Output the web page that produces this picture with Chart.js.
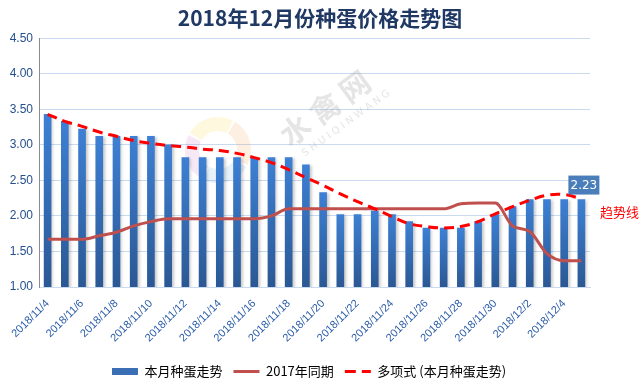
<!DOCTYPE html>
<html lang="zh-CN">
<head>
  <meta charset="UTF-8" />
  <title>2018年12月份种蛋价格走势图</title>
  <script src="https://cdn.jsdelivr.net/npm/chart.js"></script>
  <style>
    html, body { margin: 0; padding: 0; background: #fff; }
    #wrap { width: 640px; height: 388px; }
  </style>
</head>
<body>
  <div id="wrap"><canvas id="priceChart" width="640" height="388"></canvas></div>

  <script>
    const dates = [
      '2018/11/4', '2018/11/5', '2018/11/6', '2018/11/7', '2018/11/8', '2018/11/9',
      '2018/11/10', '2018/11/11', '2018/11/12', '2018/11/13', '2018/11/14', '2018/11/15',
      '2018/11/16', '2018/11/17', '2018/11/18', '2018/11/19', '2018/11/20', '2018/11/21',
      '2018/11/22', '2018/11/23', '2018/11/24', '2018/11/25', '2018/11/26', '2018/11/27',
      '2018/11/28', '2018/11/29', '2018/11/30', '2018/12/1', '2018/12/2', '2018/12/3',
      '2018/12/4', '2018/12/5'
    ];
    const thisMonth = [3.43, 3.33, 3.22, 3.12, 3.12, 3.12, 3.12, 3.00, 2.82, 2.82, 2.82, 2.82,
      2.82, 2.82, 2.82, 2.72, 2.33, 2.02, 2.02, 2.07, 2.02, 1.92, 1.83, 1.83,
      1.83, 1.92, 2.02, 2.13, 2.23, 2.23, 2.23, 2.23];
    const lastYear = [1.67, 1.67, 1.67, 1.72, 1.77, 1.86, 1.92, 1.96, 1.96, 1.96, 1.96, 1.96,
      1.96, 2.00, 2.10, 2.10, 2.10, 2.10, 2.10, 2.10, 2.10, 2.10, 2.10, 2.10,
      2.17, 2.18, 2.18, 1.86, 1.78, 1.47, 1.37, 1.37];
    const trend = [3.43, 3.33, 3.26, 3.18, 3.12, 3.06, 3.02, 2.99, 2.97, 2.94, 2.92, 2.88,
      2.82, 2.75, 2.65, 2.54, 2.43, 2.31, 2.20, 2.10, 1.99, 1.89, 1.85, 1.83,
      1.85, 1.92, 2.03, 2.13, 2.22, 2.29, 2.30, 2.24];
    const seriesNames = ['本月种蛋走势', '2017年同期', '多项式 (本月种蛋走势)'];
    const yTicks = { min: 1, max: 4.5, step: 0.5 };

    const CJK = "'Noto Sans CJK SC', 'Noto Sans', sans-serif";

    // per-bar vertical gradient like the office chart
    function barFill(c) {
      const ch = c.chart;
      const s = ch.scales && ch.scales.y;
      if (c.type !== 'data' || !s) return '#3570BE';
      const top = s.getPixelForValue(c.raw);
      const bot = s.getPixelForValue(yTicks.min);
      if (!isFinite(top) || !isFinite(bot) || top === bot) return '#3570BE';
      const g = ch.ctx.createLinearGradient(0, top, 0, bot);
      g.addColorStop(0, '#3D80D4');
      g.addColorStop(1, '#2B5894');
      return g;
    }

    const extras = {
      id: 'extras',
      afterLayout(chart) {
        // legend sits a little left of centre in the original
        chart.legend.left -= 11;
        chart.legend.right -= 11;
      },
      beforeDatasetsDraw(chart) {
        // faint watermark behind the data
        const ctx = chart.ctx;
        ctx.save();
        ctx.globalAlpha = 0.13;
        const cols = ['#F7C600', '#F08A24', '#3A8FD8', '#C04DB0'];
        cols.forEach((col, i) => {
          ctx.beginPath();
          ctx.strokeStyle = col;
          ctx.lineWidth = 14;
          ctx.arc(218, 150, 26, i * Math.PI / 2 - 2.6, i * Math.PI / 2 - 1.1);
          ctx.stroke();
        });
        ctx.globalAlpha = 1;
        ctx.fillStyle = 'rgba(150,150,150,0.25)';
        ctx.translate(325, 108);
        ctx.rotate(-36 * Math.PI / 180);
        ctx.font = "bold 30px " + CJK;
        ctx.textAlign = 'center';
        ctx.textBaseline = 'middle';
        ctx.fillText('水 禽 网', 0, 0);
        ctx.font = "10px 'DejaVu Sans', sans-serif";
        ctx.fillText('S H U I Q I N W A N G', 8, 25);
        ctx.restore();
      },
      beforeDatasetDraw(chart, args) {
        if (args.index === 0) {
          const ctx = chart.ctx;
          ctx.save();
          ctx.shadowColor = 'rgba(0,0,0,0.22)';
          ctx.shadowBlur = 3;
          ctx.shadowOffsetX = 2;
          ctx.shadowOffsetY = 1;
        }
      },
      afterDatasetDraw(chart, args) {
        if (args.index === 0) chart.ctx.restore();
      },
      afterDatasetsDraw(chart) {
        const ctx = chart.ctx;
        const meta = chart.getDatasetMeta(0);
        const last = meta.data[meta.data.length - 1];
        const val = thisMonth[thisMonth.length - 1].toFixed(2);
        ctx.save();
        // data callout for the last bar
        const bw = 31, bh = 19;
        const bx = last.x - 13, by = last.y - 5 - bh;
        ctx.fillStyle = '#4A7EBB';
        ctx.fillRect(bx, by, bw, bh);
        ctx.fillStyle = '#fff';
        ctx.font = "12px 'DejaVu Sans', sans-serif";
        ctx.textAlign = 'center';
        ctx.textBaseline = 'middle';
        ctx.fillText(val, bx + bw / 2, by + bh / 2 + 0.5);
        // trend line note
        ctx.fillStyle = '#FF0000';
        ctx.font = '13px ' + CJK;
        ctx.textAlign = 'left';
        ctx.fillText('趋势线', chart.chartArea.right + 10, chart.scales.y.getPixelForValue(2.06));
        ctx.restore();
      }
    };

    new Chart(document.getElementById('priceChart'), {
      data: {
        labels: dates,
        datasets: [
          {
            type: 'bar',
            label: seriesNames[0],
            data: thisMonth,
            backgroundColor: barFill,
            barThickness: 7,
            order: 3
          },
          {
            type: 'line',
            label: seriesNames[1],
            data: lastYear,
            borderColor: '#C0504D',
            backgroundColor: '#C0504D',
            borderWidth: 3,
            pointRadius: 0,
            tension: 0.3,
            cubicInterpolationMode: 'monotone',
            order: 2
          },
          {
            type: 'line',
            label: seriesNames[2],
            data: trend,
            borderColor: '#FF0000',
            backgroundColor: '#FF0000',
            borderWidth: 3,
            borderDash: [10, 6],
            pointRadius: 0,
            tension: 0.4,
            order: 1
          }
        ]
      },
      options: {
        responsive: false,
        animation: false,
        layout: { padding: 0 },
        plugins: {
          title: {
            display: true,
            text: '2018年12月份种蛋价格走势图',
            color: '#1F3864',
            font: { family: CJK, size: 21, weight: 'bold' },
            padding: { top: 5, bottom: 8 }
          },
          tooltip: { enabled: false },
          legend: {
            position: 'bottom',
            labels: {
              usePointStyle: true,
              pointStyleWidth: 26,
              boxHeight: 7,
              padding: 11,
              color: '#111',
              font: { family: CJK, size: 13 },
              generateLabels: () => [
                { text: seriesNames[0], pointStyle: 'rect', fillStyle: '#3A6EB5', strokeStyle: '#3A6EB5', lineWidth: 0, datasetIndex: 0 },
                { text: seriesNames[1], pointStyle: 'line', fillStyle: '#C0504D', strokeStyle: '#C0504D', lineWidth: 3, datasetIndex: 1 },
                { text: seriesNames[2], pointStyle: 'line', fillStyle: '#FF0000', strokeStyle: '#FF0000', lineWidth: 3, lineDash: [11, 6], datasetIndex: 2 }
              ]
            }
          }
        },
        scales: {
          x: {
            grid: { display: false },
            border: { color: '#C9DAF0' },
            ticks: {
              autoSkip: false,
              maxRotation: 45,
              minRotation: 45,
              padding: 2,
              color: '#2A5CA8',
              font: { family: "'Liberation Sans', sans-serif", size: 11 },
              callback: (v, i) => (i % 2 === 0 ? dates[i] : '')
            },
            afterFit: s => { s.height = 67; }
          },
          y: {
            min: yTicks.min,
            max: yTicks.max,
            grid: { color: '#C9DAF0', drawTicks: false },
            border: { color: '#8C8C8C' },
            ticks: {
              stepSize: yTicks.step,
              padding: 6,
              color: '#254F8E',
              font: { family: "'Liberation Sans', sans-serif", size: 12 },
              callback: v => v.toFixed(2)
            },
            afterFit: s => { s.width = 39; }
          },
          // empty right-hand axis that keeps room for the note text
          yRight: {
            position: 'right',
            grid: { display: false },
            border: { display: false },
            ticks: { display: false },
            afterFit: s => { s.width = 50; }
          }
        }
      },
      plugins: [extras]
    });
  </script>
</body>
</html>
